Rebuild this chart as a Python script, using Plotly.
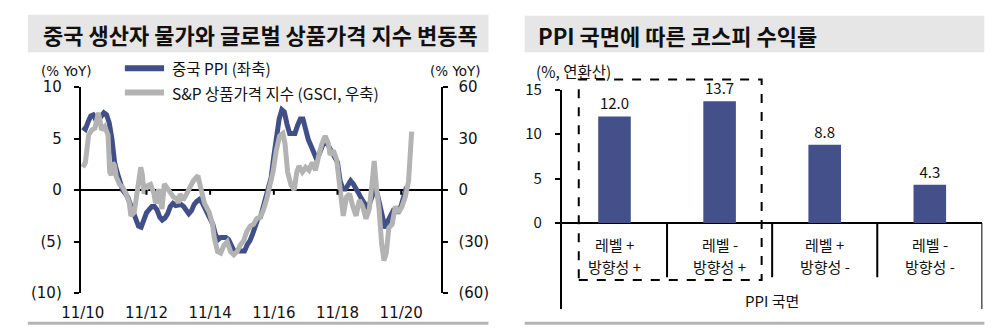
import pandas as pd
import plotly.graph_objects as go

# ---------------- data ----------------
ppi_start = "2010-11-01"
ppi_values = [
    6.1, 5.9,
    6.6, 7.2, 7.3, 6.8, 6.8, 7.1, 7.5, 7.3, 6.5, 5.0, 2.7, 1.7,
    0.7, 0.0, -0.3, -0.7, -1.4, -2.1, -2.9, -3.5, -3.6, -2.8, -2.2, -1.9,
    -1.6, -1.6, -1.9, -2.6, -2.9, -2.7, -2.3, -1.6, -1.3, -1.5, -1.4, -1.4,
    -1.6, -2.0, -2.3, -2.0, -1.4, -1.1, -0.9, -1.2, -1.8, -2.2, -2.7, -3.3,
    -4.3, -4.8, -4.6, -4.6, -4.6, -4.8, -5.4, -5.9, -5.9, -5.9, -5.9, -5.9,
    -5.3, -4.9, -4.3, -3.4, -2.8, -2.6, -1.7, -0.8, 0.1, 1.2, 3.3, 5.5,
    6.9, 7.8, 7.6, 6.4, 5.5, 5.5, 5.5, 6.3, 6.9, 6.9, 5.8, 4.9,
    4.3, 3.7, 3.1, 3.4, 4.1, 4.7, 4.6, 4.1, 3.6, 3.3, 2.7, 0.9,
    0.1, 0.1, 0.4, 0.9, 0.6, 0.0, -0.3, -0.8, -1.2, -1.6, -1.4, -0.5,
    0.1, -0.4, -1.5, -3.1, -3.7, -3.0, -2.4, -2.0, -2.1, -2.1, -1.5, -0.4,
    0.3,
]
ppi_dates = pd.date_range(ppi_start, periods=len(ppi_values), freq="MS")

gsci_dates = [
    "2010-11-01", "2010-12-01", "2011-01-07", "2011-02-14", "2011-03-21", "2011-04-28",
    "2011-05-16", "2011-06-04", "2011-07-11", "2011-08-18", "2011-09-06", "2011-09-25",
    "2011-10-13", "2011-11-02", "2011-11-20", "2011-12-28", "2012-02-04", "2012-03-11",
    "2012-04-18", "2012-05-06", "2012-06-13", "2012-07-20", "2012-08-27", "2012-09-15",
    "2012-10-04", "2012-11-11", "2012-12-18", "2013-01-25", "2013-02-13", "2013-03-02",
    "2013-03-21", "2013-04-09", "2013-04-28", "2013-05-24", "2013-06-23", "2013-07-30",
    "2013-09-06", "2013-10-13", "2013-11-02", "2013-11-20", "2013-12-27", "2014-02-04",
    "2014-03-11", "2014-04-18", "2014-06-13", "2014-07-20", "2014-08-27", "2014-10-22",
    "2014-11-29", "2014-12-18", "2015-01-25", "2015-03-02", "2015-04-09", "2015-05-16",
    "2015-06-23", "2015-07-30", "2015-09-06", "2015-10-13", "2015-11-20", "2015-12-27",
    "2016-02-04", "2016-03-11", "2016-04-18", "2016-05-25", "2016-07-01", "2016-08-08",
    "2016-09-15", "2016-10-22", "2016-11-29", "2017-01-06", "2017-02-13", "2017-03-09",
    "2017-04-08", "2017-05-15", "2017-06-22", "2017-07-22", "2017-08-17", "2017-09-24",
    "2017-11-01", "2017-12-08", "2018-01-15", "2018-02-22", "2018-03-29", "2018-05-06",
    "2018-06-13", "2018-07-20", "2018-08-08", "2018-09-15", "2018-10-22", "2018-11-29",
    "2019-01-06", "2019-02-12", "2019-03-20", "2019-04-26", "2019-06-03", "2019-07-10",
    "2019-08-17", "2019-09-24", "2019-11-01", "2019-12-08", "2019-12-27", "2020-01-22",
    "2020-02-21", "2020-03-21", "2020-04-17", "2020-05-13", "2020-06-12", "2020-07-19",
    "2020-08-26", "2020-10-03", "2020-11-10", "2020-12-17", "2021-01-24", "2021-03-01",
]
gsci_values = [
    13.3, 16.0, 32.0, 35.0, 36.0, 45.0,
    41.0, 35.0, 37.0, 32.0, 10.5, 8.7,
    16.0, 14.0, 7.8, 3.3, 1.5, -2.0,
    -7.6, -15.0, -13.0, -2.0, 13.3, 8.7,
    -2.0, 2.4, 3.3, -2.0, -7.6, -5.8,
    0.5, -5.8, -11.0, 3.6, 1.5, -1.3,
    -4.0, -4.9, -7.6, -2.2, -5.8, -2.2,
    1.5, 5.0, 8.4, -0.4, -7.6, -13.0,
    -20.0, -27.6, -35.8, -36.7, -32.0, -30.0,
    -35.8, -37.6, -35.8, -32.0, -29.5, -24.0,
    -21.0, -20.0, -16.7, -15.8, -12.0, -5.8,
    1.5, 10.5, 23.0, 31.5, 33.0, 27.0,
    10.5, 3.3, 0.0, 10.5, 14.0, 10.5,
    13.3, 11.5, 16.0, 11.5, 19.6, 27.0,
    31.5, 27.0, 20.5, 23.0, 17.8, -2.2,
    -15.0, -4.0, -2.2, -9.5, -15.0, -5.8,
    -9.5, -16.7, -11.0, 6.9, 17.0, 1.5,
    -11.0, -31.0, -41.0, -36.7, -22.0, -20.0,
    -9.5, -13.0, -9.5, -4.0, 5.0, 34.0,
]

x_tick_dates = ["2010-11-01", "2012-11-01", "2014-11-01", "2016-11-01", "2018-11-01", "2020-11-01"]
x_tick_text = ["11/10", "11/12", "11/14", "11/16", "11/18", "11/20"]
left_tick_vals = [-10, -5, 0, 5, 10]
left_tick_text = ["(10)", "(5)", "0", "5", "10"]
right_tick_vals = [-60, -30, 0, 30, 60]
right_tick_text = ["(60)", "(30)", "0", "30", "60"]

phase_level = ["레벨 +", "레벨 -", "레벨 +", "레벨 -"]
phase_direction = ["방향성 +", "방향성 +", "방향성 -", "방향성 -"]
kospi_returns = [12.0, 13.7, 8.8, 4.3]

# ---------------- styles ----------------
W, H = 1000, 335
def px(x):
    return x / W
def py(y):
    return 1 - y / H

BLUE = "#414F89"
GRAY = "#B3B3B3"
BAR = "#43508A"
TITLE_BG = "#E6E6E6"
TXT = "#111111"
NUM_FONT = "DejaVu Sans, Verdana, sans-serif"
KR_FONT = "Noto Sans CJK KR, sans-serif"

fig = go.Figure()

fig.add_trace(go.Scatter(
    x=ppi_dates, y=ppi_values, mode="lines", name="중국 PPI (좌축)",
    line=dict(color=BLUE, width=5), xaxis="x", yaxis="y", showlegend=False,
))
fig.add_trace(go.Scatter(
    x=gsci_dates, y=gsci_values, mode="lines", name="S&P 상품가격 지수 (GSCI, 우축)",
    line=dict(color=GRAY, width=5), xaxis="x", yaxis="y2", showlegend=False,
))

bar_x = list(range(len(kospi_returns)))
fig.add_trace(go.Bar(
    x=bar_x, y=kospi_returns, marker=dict(color=BAR, line=dict(width=0)),
    width=0.31, texttemplate="%{y:.1f}", textposition="outside",
    textfont=dict(family=KR_FONT, size=15, color=TXT),
    cliponaxis=False, xaxis="x2", yaxis="y3", showlegend=False,
))

fig.update_layout(
    width=W, height=H, margin=dict(l=0, r=0, t=0, b=0),
    paper_bgcolor="white", plot_bgcolor="white",
    xaxis=dict(
        domain=[px(62), px(430)], anchor="y", type="date",
        range=["2010-10-09", "2022-02-05"],
        tickmode="array", tickvals=x_tick_dates, ticktext=x_tick_text,
        ticks="", showline=False, showgrid=False, zeroline=False,
        tickfont=dict(family=NUM_FONT, size=15, color=TXT),
        ticklabelstandoff=9,
    ),
    yaxis=dict(
        domain=[py(300), py(80)], anchor="x", range=[-10, 10],
        tickmode="array", tickvals=left_tick_vals, ticktext=left_tick_text,
        ticks="outside", ticklen=5, tickwidth=2, tickcolor="black",
        showline=True, linewidth=2, linecolor="black",
        showgrid=False, zeroline=True, zerolinecolor="black", zerolinewidth=2,
        tickfont=dict(family=NUM_FONT, size=15, color=TXT),
        ticklabelstandoff=9,
    ),
    yaxis2=dict(
        overlaying="y", side="right", anchor="x", range=[-60, 60],
        tickmode="array", tickvals=right_tick_vals, ticktext=right_tick_text,
        ticks="outside", ticklen=5, tickwidth=2, tickcolor="black",
        showline=True, linewidth=2, linecolor="black",
        showgrid=False, zeroline=False,
        tickfont=dict(family=NUM_FONT, size=15, color=TXT),
        ticklabelstandoff=7,
    ),
    xaxis2=dict(
        domain=[px(553), px(982)], anchor="y3", range=[-0.5, 3.5],
        showticklabels=False, ticks="", showline=False, showgrid=False, zeroline=False,
    ),
    yaxis3=dict(
        domain=[py(317), py(83)], anchor="x2", range=[-9.7, 15],
        tickmode="array", tickvals=[0, 5, 10, 15],
        ticks="outside", ticklen=5, tickwidth=2, tickcolor="black",
        showline=True, linewidth=2, linecolor="black",
        showgrid=False, zeroline=True, zerolinecolor="black", zerolinewidth=2,
        tickfont=dict(family=KR_FONT, size=15, color=TXT),
        ticklabelstandoff=10,
    ),
)

shapes = []
annotations = []

# title bars
shapes.append(dict(type="rect", xref="paper", yref="paper", x0=px(8), x1=px(478),
                   y0=py(43), y1=py(3), fillcolor=TITLE_BG, line=dict(width=0), layer="below"))
shapes.append(dict(type="rect", xref="paper", yref="paper", x0=px(515), x1=px(984),
                   y0=py(43), y1=py(4), fillcolor=TITLE_BG, line=dict(width=0), layer="below"))
annotations.append(dict(text="중국 생산자 물가와 글로벌 상품가격 지수 변동폭", xref="paper", yref="paper",
                        x=px(21), y=py(24), xanchor="left", yanchor="middle", showarrow=False,
                        font=dict(family=KR_FONT, size=22, color=TXT, weight="bold")))
annotations.append(dict(text="PPI 국면에 따른 코스피 수익률", xref="paper", yref="paper",
                        x=px(527), y=py(25), xanchor="left", yanchor="middle", showarrow=False,
                        font=dict(family=KR_FONT, size=22, color=TXT, weight="bold")))

# bottom separator lines
shapes.append(dict(type="line", xref="paper", yref="paper", x0=px(8), x1=px(478),
                   y0=py(332), y1=py(332), line=dict(color="#B4B4B4", width=3)))
shapes.append(dict(type="line", xref="paper", yref="paper", x0=px(515), x1=px(984),
                   y0=py(332), y1=py(332), line=dict(color="#B4B4B4", width=3)))

# left chart: unit labels
annotations.append(dict(text="(% YoY)", xref="paper", yref="paper", x=px(19), y=py(63),
                        xanchor="left", yanchor="middle", showarrow=False,
                        font=dict(family=NUM_FONT, size=13.5, color=TXT)))
annotations.append(dict(text="(% YoY)", xref="paper", yref="paper", x=px(472), y=py(63),
                        xanchor="right", yanchor="middle", showarrow=False,
                        font=dict(family=NUM_FONT, size=13.5, color=TXT)))

# left chart: small ticks on the zero line
for d in x_tick_dates[1:]:
    shapes.append(dict(type="line", xref="x", yref="y", x0=d, x1=d, y0=0, y1=-0.45,
                       line=dict(color="black", width=2)))

# left chart: legend
legend_items = [("중국 PPI (좌축)", BLUE, 60), ("S&P 상품가격 지수 (GSCI, 우축)", GRAY, 86)]
for label, color, yy in legend_items:
    shapes.append(dict(type="line", xref="paper", yref="paper", x0=px(107), x1=px(147),
                       y0=py(yy), y1=py(yy), line=dict(color=color, width=6)))
    annotations.append(dict(text=label, xref="paper", yref="paper", x=px(153), y=py(yy),
                            xanchor="left", yanchor="middle", showarrow=False,
                            font=dict(family=KR_FONT, size=15.5, color=TXT)))

# right chart: unit label
annotations.append(dict(text="(%, 연환산)", xref="paper", yref="paper", x=px(524), y=py(63),
                        xanchor="left", yanchor="middle", showarrow=False,
                        font=dict(family=KR_FONT, size=15.5, color=TXT)))

# right chart: category separators & right border
for i in range(len(kospi_returns) - 1):
    xs = i + 0.5
    shapes.append(dict(type="line", xref="x2", yref="y3", x0=xs, x1=xs, y0=0, y1=-6.1,
                       line=dict(color="black", width=2)))
shapes.append(dict(type="line", xref="x2", yref="y3", x0=3.5, x1=3.5, y0=0, y1=-9.7,
                   line=dict(color="black", width=2)))

# right chart: category labels
for i, (lv, dr) in enumerate(zip(phase_level, phase_direction)):
    annotations.append(dict(text=lv, xref="x2", yref="paper", x=i, y=py(248),
                            xanchor="center", yanchor="middle", showarrow=False,
                            font=dict(family=KR_FONT, size=15, color=TXT)))
    annotations.append(dict(text=dr, xref="x2", yref="paper", x=i, y=py(271),
                            xanchor="center", yanchor="middle", showarrow=False,
                            font=dict(family=KR_FONT, size=15, color=TXT)))
annotations.append(dict(text="PPI 국면", xref="x2", yref="paper", x=1.5, y=py(308),
                        xanchor="center", yanchor="middle", showarrow=False,
                        font=dict(family=KR_FONT, size=15, color=TXT)))

# right chart: dashed highlight box around first two categories
shapes.append(dict(type="rect", xref="x2", yref="paper", x0=-0.34, x1=1.40,
                   y0=py(286), y1=py(72), line=dict(color="black", width=2, dash="dash"),
                   fillcolor="rgba(0,0,0,0)"))

fig.update_layout(shapes=shapes, annotations=annotations)
fig.write_html(
    "out.html",
    post_script="document.body.style.margin='0';",
)
